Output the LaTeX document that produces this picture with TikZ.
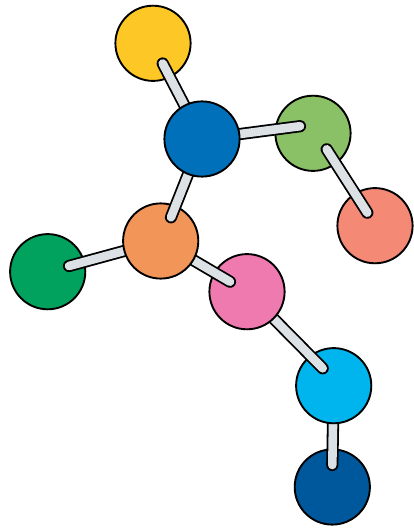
\documentclass[tikz,border=0pt]{standalone}
\pgfdeclarelayer{nA}\pgfdeclarelayer{bA}\pgfdeclarelayer{nB}\pgfdeclarelayer{bB}
\pgfdeclarelayer{nC}\pgfdeclarelayer{bC}\pgfdeclarelayer{nD}\pgfdeclarelayer{bD}
\pgfsetlayers{nA,bA,nB,bB,nC,bC,nD,bD,main}
\definecolor{cYellow}{HTML}{FDC825}
\definecolor{cBlue}{HTML}{0070BB}
\definecolor{cGreen}{HTML}{8AC066}
\definecolor{cSalmon}{HTML}{F48A76}
\definecolor{cDark}{HTML}{00A25E}
\definecolor{cOrange}{HTML}{F29558}
\definecolor{cPink}{HTML}{EF7AB0}
\definecolor{cCyan}{HTML}{00B4EE}
\definecolor{cNavy}{HTML}{00589C}
\definecolor{cBond}{HTML}{DCE1E5}
\tikzset{
  atom/.style={circle,draw=black,line width=1.9pt,inner sep=0pt,outer sep=0pt,minimum size=75.2pt},
  bondout/.style={draw=black,line width=12.2pt,line cap=round},
  bondin/.style={draw=cBond,line width=8.6pt,line cap=round}
}
\newcommand{\bondline}[2]{\draw[bondout] (#1) -- (#2);\draw[bondin] (#1) -- (#2);}
\begin{document}
\begin{tikzpicture}[x=1pt,y=-1pt]
\useasboundingbox (0,0) rectangle (414,529);
% bond tips lying inside the neighbouring atoms
\coordinate (tipYellow) at (162.7,63.5);
\coordinate (tipGreen) at (300,126.2);
\coordinate (tipGreenB) at (326.7,149.3);
\coordinate (tipSalmon) at (367.3,212.7);
\coordinate (tipOrange) at (171,217.3);
\coordinate (tipDark) at (69,266);
\coordinate (tipPink) at (230,281.7);
\coordinate (tipCyan) at (322.7,368.3);
\coordinate (tipNavy) at (332.3,465);
\begin{pgfonlayer}{nA}
  \node[atom,fill=cNavy] (navy) at (332.3,487) {};
\end{pgfonlayer}
\begin{pgfonlayer}{nB}
  \node[atom,fill=cCyan] (cyan) at (333.7,385.7) {};
\end{pgfonlayer}
\begin{pgfonlayer}{nC}
  \node[atom,fill=cPink] (pink) at (247,291.7) {};
  \node[atom,fill=cDark] (dark) at (47.7,271.7) {};
\end{pgfonlayer}
\begin{pgfonlayer}{nD}
  \node[atom,fill=cOrange] (orange) at (160.7,241) {};
  \node[atom,fill=cYellow] (yellow) at (153,43.3) {};
  \node[atom,fill=cGreen] (green) at (313,133.3) {};
  \node[atom,fill=cSalmon] (salmon) at (375,225.7) {};
\end{pgfonlayer}
\node[atom,fill=cBlue] (blue) at (202,139) {};
\begin{pgfonlayer}{bA}
  \bondline{cyan.center}{tipNavy}
\end{pgfonlayer}
\begin{pgfonlayer}{bB}
  \bondline{pink.center}{tipCyan}
\end{pgfonlayer}
\begin{pgfonlayer}{bC}
  \bondline{orange.center}{tipDark}
  \bondline{orange.center}{tipPink}
\end{pgfonlayer}
\begin{pgfonlayer}{bD}
  \bondline{blue.center}{tipYellow}
  \bondline{blue.center}{tipGreen}
  \bondline{blue.center}{tipOrange}
  \bondline{tipGreenB}{tipSalmon}
\end{pgfonlayer}
\end{tikzpicture}
\end{document}
